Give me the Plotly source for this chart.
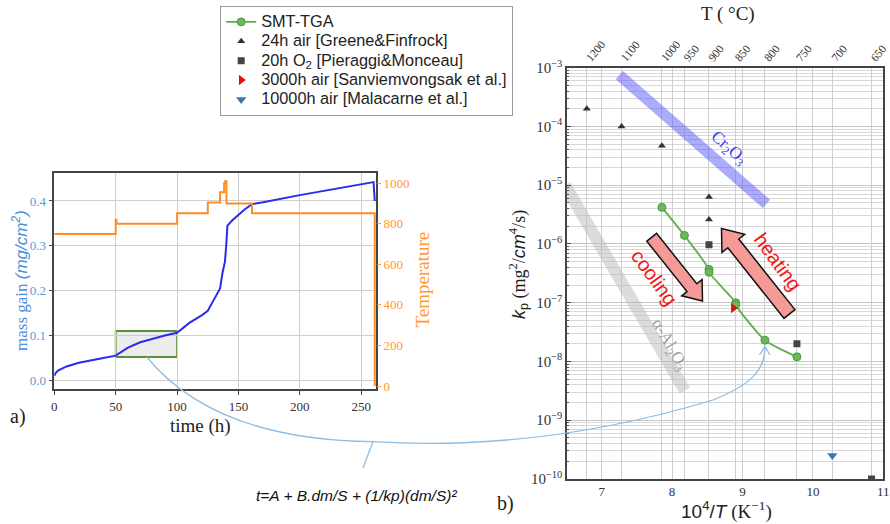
import math
import plotly.graph_objects as go

W, H = 890, 524

# ---------------- data: panel a) ----------------
time_h = [0, 1, 3, 10, 20, 30, 40, 50, 55, 60, 70, 80, 90, 100, 105, 110, 120, 125,
          130, 135, 137, 139, 140, 141, 145, 150, 155, 161, 170, 200, 230, 260, 261]
mass_gain = [0.010, 0.016, 0.022, 0.031, 0.039, 0.045, 0.050, 0.055, 0.065, 0.073,
             0.085, 0.093, 0.100, 0.106, 0.118, 0.128, 0.145, 0.155,
             0.180, 0.205, 0.240, 0.265, 0.300, 0.345, 0.357, 0.370, 0.381, 0.393,
             0.397, 0.413, 0.428, 0.442, 0.400]

temp_time = [0, 50, 50.6, 100, 125, 135, 138.3, 139.2, 140.2, 161, 261, 261]
temp_C = [750, 820, 800, 852, 905, 955, 1000, 1010, 900, 852, 0, 0]

zoom_box_t = [50, 100]
zoom_box_m = [0.052, 0.110]

# ---------------- data: panel b) ----------------
smt_x = [7.855, 8.175, 8.524, 8.524, 8.904, 8.904, 9.318, 9.773]
smt_kp = [4.2e-6, 1.4e-6, 3.7e-7, 3.3e-7, 1.0e-7, 9.2e-8, 2.3e-8, 1.2e-8]

greene_x = [6.788, 7.282, 7.855, 8.524, 8.524]
greene_kp = [2.0e-4, 1.0e-4, 4.7e-5, 6.3e-6, 2.6e-6]

pieraggi_x = [8.524, 9.773, 10.833]
pieraggi_kp = [9.7e-7, 2.0e-8, 1.0e-10]

sanv_x = [8.87]
sanv_kp = [8.1e-8]

mala_x = [10.276]
mala_kp = [2.5e-10]

cr2o3_x = [7.25, 9.34]
cr2o3_kp = [7.5e-4, 4.8e-6]

al2o3_x = [6.48, 8.18]
al2o3_kp = [1.0e-5, 3.2e-9]

top_T = [1200, 1100, 1000, 950, 900, 850, 800, 750, 700, 650]

legend_names = ["SMT-TGA", "24h air [Greene&amp;Finfrock]", "20h O<sub>2</sub> [Pieraggi&amp;Monceau]",
                "3000h air [Sanviemvongsak et al.]", "10000h air [Malacarne et al.]"]

SERIF = "Liberation Serif"
SANS = "Liberation Sans"


def P(px, py):
    return px / W, 1 - py / H


def fmt(pt):
    x, y = P(*pt)
    return f"{x:.5f},{y:.5f}"


def big(name):
    return f"<span style='font-size:16.3px'>{name}</span>"


fig = go.Figure()

# ---- panel a traces ----
fig.add_trace(go.Scatter(x=temp_time, y=temp_C, mode="lines", line=dict(color="#ff8c26", width=2, shape="hv"),
                         xaxis="x", yaxis="y2", showlegend=False, hoverinfo="skip"))
fig.add_trace(go.Scatter(x=time_h, y=mass_gain, mode="lines", line=dict(color="#2b2bf0", width=2),
                         xaxis="x", yaxis="y", showlegend=False))

# ---- panel b traces ----
fig.add_trace(go.Scatter(x=cr2o3_x, y=cr2o3_kp, mode="lines", line=dict(color="rgba(90,90,250,0.5)", width=11),
                         xaxis="x2", yaxis="y3", showlegend=False, hoverinfo="skip"))
fig.add_trace(go.Scatter(x=al2o3_x, y=al2o3_kp, mode="lines", line=dict(color="rgba(185,185,185,0.5)", width=12),
                         xaxis="x2", yaxis="y3", showlegend=False, hoverinfo="skip"))

fig.add_trace(go.Scatter(x=smt_x, y=smt_kp, mode="lines+markers", name=big(legend_names[0]),
                         line=dict(color="#5fae4f", width=1.8, shape="spline", smoothing=0.6),
                         marker=dict(color="#66bb55", size=8, line=dict(color="#4f9a40", width=1)),
                         xaxis="x2", yaxis="y3"))
fig.add_trace(go.Scatter(x=greene_x, y=greene_kp, mode="markers", name=big(legend_names[1]),
                         marker=dict(symbol="triangle-up", color="#333333", size=7),
                         xaxis="x2", yaxis="y3"))
fig.add_trace(go.Scatter(x=pieraggi_x, y=pieraggi_kp, mode="markers", name=big(legend_names[2]),
                         marker=dict(symbol="square", color="#444444", size=7),
                         xaxis="x2", yaxis="y3", cliponaxis=True))
fig.add_trace(go.Scatter(x=sanv_x, y=sanv_kp, mode="markers", name=big(legend_names[3]),
                         marker=dict(symbol="triangle-right", color="#dd1111", size=9),
                         xaxis="x2", yaxis="y3"))
fig.add_trace(go.Scatter(x=mala_x, y=mala_kp, mode="markers", name=big(legend_names[4]),
                         marker=dict(symbol="triangle-down", color="#3a78b5", size=9),
                         xaxis="x2", yaxis="y3"))

# invisible trace to carry the top axis
fig.add_trace(go.Scatter(x=[6.5, 11], y=[1e-10, 1e-10], mode="markers", marker=dict(opacity=0),
                         xaxis="x3", yaxis="y3", showlegend=False, hoverinfo="skip"))

top_vals = [1e4 / (t + 273.15) for t in top_T]

blue_lbl = "#5b9bd5"
orange = "#ff9933"
grid = "#cfcfcf"

fig.update_layout(
    width=W, height=H, margin=dict(l=0, r=0, t=0, b=0, autoexpand=False),
    paper_bgcolor="white", plot_bgcolor="white",
    xaxis=dict(domain=[54.3 / W, 376 / W], range=[0, 262], anchor="y", automargin=False,
               tickvals=[0, 50, 100, 150, 200, 250], showgrid=True, gridcolor=grid, gridwidth=1.2,
               showline=True, linecolor="#444", linewidth=1.5, mirror=True, ticks="outside", ticklen=4,
               tickcolor="#444", tickfont=dict(family=SERIF, size=13, color="#333"), zeroline=False),
    yaxis=dict(domain=[1 - 389.3 / H, 1 - 172.7 / H], range=[-0.02, 0.463], anchor="x", automargin=False,
               tickvals=[0, 0.1, 0.2, 0.3, 0.4], ticktext=["0.0", "0.1", "0.2", "0.3", "0.4"],
               showgrid=True, gridcolor=grid, gridwidth=1.2, zeroline=False,
               showline=True, linecolor="#444", linewidth=1.5, mirror=True, ticks="outside", ticklen=4,
               tickcolor="#444", tickfont=dict(family=SERIF, size=13, color=blue_lbl)),
    yaxis2=dict(overlaying="y", side="right", anchor="x", range=[-16, 1052], automargin=False,
                tickvals=[0, 200, 400, 600, 800, 1000], showgrid=False, zeroline=False,
                ticks="outside", ticklen=4, tickcolor=orange,
                tickfont=dict(family=SERIF, size=13, color=orange)),
    xaxis2=dict(domain=[566.5 / W, 883.3 / W], range=[6.5, 11], anchor="y3", automargin=False,
                tickvals=[7, 8, 9, 10, 11], showgrid=True, gridcolor=grid, gridwidth=1,
                showline=True, linecolor="#444", linewidth=1.5, mirror=True, ticks="",
                tickfont=dict(family=SERIF, size=13, color="#333"), zeroline=False),
    xaxis3=dict(overlaying="x2", side="top", anchor="y3", range=[6.5, 11], automargin=False,
                tickvals=top_vals, ticktext=[str(t) for t in top_T], tickangle=-50,
                showgrid=True, gridcolor=grid, gridwidth=1, zeroline=False, ticks="",
                tickfont=dict(family=SERIF, size=11.5, color="#333")),
    yaxis3=dict(domain=[1 - 479 / H, 1 - 67.7 / H], type="log", range=[-10, -3], anchor="x2",
                automargin=False, dtick=1, exponentformat="power", showexponent="all",
                showgrid=True, gridcolor="#c4c4c4", gridwidth=1.2,
                minor=dict(showgrid=True, gridcolor="#d8d8d8", gridwidth=1, ticks="inside", ticklen=3,
                           tickcolor="#555"),
                showline=True, linecolor="#444", linewidth=1.5, mirror=True, ticks="inside", ticklen=5,
                tickcolor="#444", tickfont=dict(family=SERIF, size=12, color="#333"), zeroline=False),
    legend=dict(x=220 / W, y=1 - 6 / H, xanchor="left", yanchor="top",
                bordercolor="#9a9a9a", borderwidth=1.2, bgcolor="white",
                font=dict(family=SANS, size=12.6, color="#222"), itemwidth=30, tracegroupgap=0),
)

shapes = []
# zoom box on panel a
shapes.append(dict(type="rect", xref="x", yref="y", x0=zoom_box_t[0], x1=zoom_box_t[1],
                   y0=zoom_box_m[0], y1=zoom_box_m[1], fillcolor="rgba(200,200,200,0.35)",
                   line=dict(color="#5c8f3c", width=1.8), layer="below"))


# block arrows (decorations, in pixel space)
def block_arrow(tail, tip, sw, hw, hl):
    dx, dy = tip[0] - tail[0], tip[1] - tail[1]
    L = math.hypot(dx, dy)
    ux, uy = dx / L, dy / L
    nx, ny = -uy, ux
    bx, by = tip[0] - ux * hl, tip[1] - uy * hl
    pts = [(tail[0] + nx * sw / 2, tail[1] + ny * sw / 2),
           (bx + nx * sw / 2, by + ny * sw / 2),
           (bx + nx * hw / 2, by + ny * hw / 2),
           tip,
           (bx - nx * hw / 2, by - ny * hw / 2),
           (bx - nx * sw / 2, by - ny * sw / 2),
           (tail[0] - nx * sw / 2, tail[1] - ny * sw / 2)]
    return "M " + " L ".join(fmt(p) for p in pts) + " Z"


for tail, tip, sw, hw, hl in [((651.7, 237.3), (702.5, 301.0), 12.5, 26, 17),
                              ((789.5, 314.0), (721.5, 228.5), 14, 29, 19)]:
    shapes.append(dict(type="path", xref="paper", yref="paper", path=block_arrow(tail, tip, sw, hw, hl),
                       fillcolor="#f59a96", line=dict(color="#111", width=1.5)))

# curved connector
curve = ("M " + fmt((146.7, 357)) + " Q " + fmt((215, 440)) + " " + fmt((373, 441.7)) +
         " Q " + fmt((540, 452)) + " " + fmt((713, 400)) +
         " C " + fmt((748, 386)) + " " + fmt((765, 372)) + " " + fmt((765, 347)))
shapes.append(dict(type="path", xref="paper", yref="paper", path=curve,
                   line=dict(color="#8cbde6", width=1.3)))
shapes.append(dict(type="path", xref="paper", yref="paper",
                   path="M " + fmt((759.5, 355)) + " L " + fmt((765, 346.5)) + " L " + fmt((770, 355)),
                   line=dict(color="#8cbde6", width=1.3)))
shapes.append(dict(type="path", xref="paper", yref="paper",
                   path="M " + fmt((373, 441.7)) + " L " + fmt((363, 468)),
                   line=dict(color="#8cbde6", width=1.3)))
fig.update_layout(shapes=shapes)


def ann(px, py, text, size, color="#222", family=SERIF, angle=0, **kw):
    x, y = P(px, py)
    d = dict(x=x, y=y, xref="paper", yref="paper", text=text, showarrow=False,
             font=dict(family=family, size=size, color=color), textangle=angle,
             xanchor="center", yanchor="middle")
    d.update(kw)
    return d


annotations = [
    ann(200, 426, "time (h)", 19),
    ann(18, 416, "a)", 20),
    ann(20, 281, "mass gain <span style='font-family:Liberation Sans'><i>(mg/cm<sup>2</sup>)</i></span>",
        17, color="#4a90d9", angle=-90),
    ann(421.5, 280, "Temperature", 19, color=orange, angle=-90),
    ann(728, 14, "T ( °C)", 19),
    ann(518, 265, "<span style='font-family:Liberation Sans'><i>k</i><sub>p</sub></span> "
                  "(mg<sup>2</sup>/<span style='font-family:Liberation Sans'><i>cm</i></span><sup>4</sup>/s)",
        18, angle=-90),
    ann(726, 510, "<span style='font-family:Liberation Sans'>10<sup>4</sup>/<i>T</i></span> (K<sup>−1</sup>)", 19),
    ann(505, 503, "b)", 20),
    ann(356, 495, "<i>t=A + B.dm/S + (1/kp)(dm/S)²</i>", 15.5, family=SANS, color="#111"),
    ann(728, 148, "Cr<sub>2</sub>O<sub>3</sub>", 17, color="#3b3bea", angle=41),
    ann(669, 345, "α-Al<sub>2</sub>O<sub>3</sub>", 17, color="#a0a0a0", angle=60),
    ann(654, 277, "cooling", 20, color="#f01818", family=SANS, angle=54),
    ann(778, 262, "heating", 20, color="#f01818", family=SANS, angle=54),
]
fig.update_layout(annotations=annotations)

fig.write_html("out.html")
